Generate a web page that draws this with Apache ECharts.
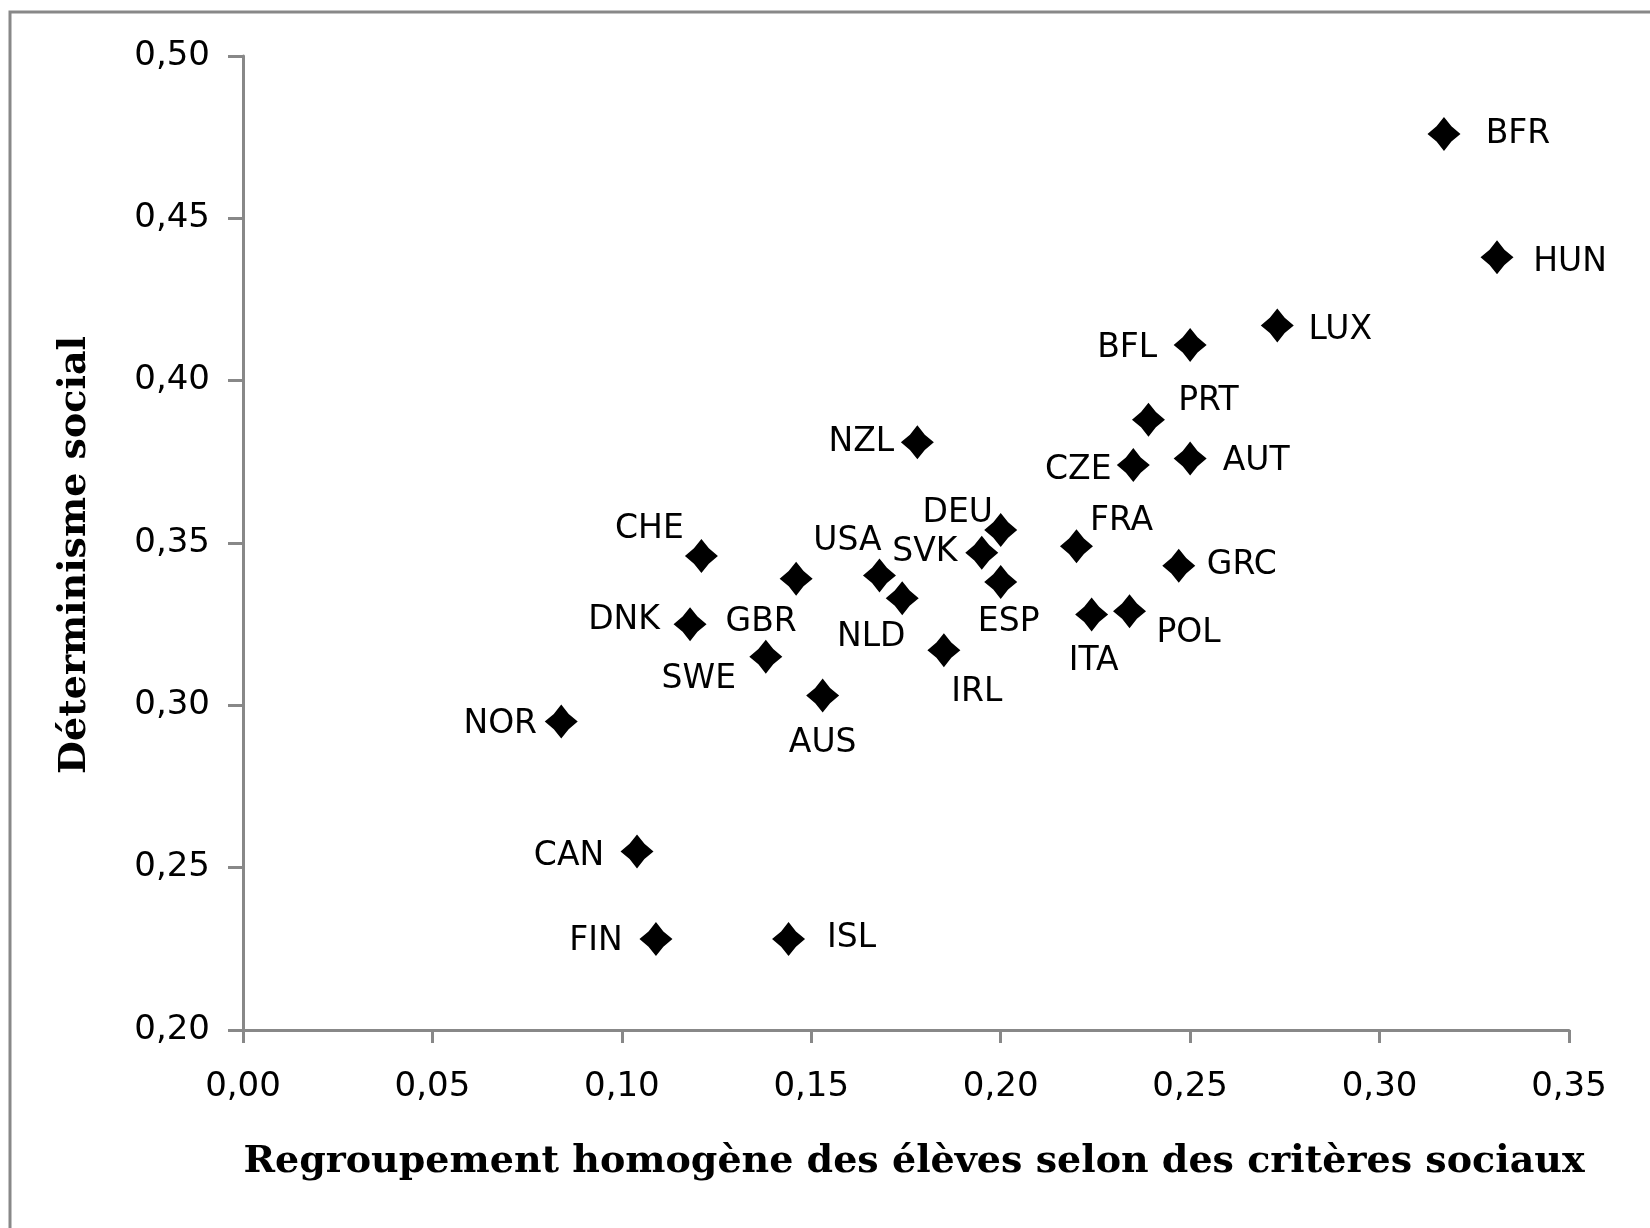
<!DOCTYPE html>
<html>
<head>
<meta charset="utf-8">
<script src="https://cdn.jsdelivr.net/npm/echarts@6/dist/echarts.min.js"></script>
<style>html,body{margin:0;padding:0;background:#fff}#c{width:1650px;height:1228px}</style>
</head>
<body>
<div id="c"></div>
<script>
// ---- data ----
const countries = ["BFR","HUN","LUX","BFL","PRT","AUT","CZE","NZL","DEU","SVK","ESP","FRA","GRC","ITA","POL","CHE","GBR","USA","NLD","DNK","SWE","IRL","AUS","NOR","CAN","FIN","ISL"];
const groupingValues = [0.317,0.331,0.273,0.250,0.239,0.250,0.235,0.178,0.200,0.195,0.200,0.220,0.247,0.224,0.234,0.121,0.146,0.168,0.174,0.118,0.138,0.185,0.153,0.084,0.104,0.109,0.144];
const determinismValues = [0.476,0.438,0.417,0.411,0.388,0.376,0.374,0.381,0.354,0.347,0.338,0.349,0.343,0.328,0.329,0.346,0.339,0.340,0.333,0.325,0.315,0.317,0.303,0.295,0.255,0.228,0.228];
const xTicks = ["0,00","0,05","0,10","0,15","0,20","0,25","0,30","0,35"];
const yTicks = ["0,20","0,25","0,30","0,35","0,40","0,45","0,50"];
// label placement (pixel offsets from marker centre), styling only
const labelOffsets = [[74,-3],[73,1],[63,1],[-63,-1],[60,-22],[66,-1],[-55,1],[-56,-4],[-43,-21],[-57,-4],[8,36],[45,-29],[63,-4],[2,43],[59,18],[-52,-31],[-35,40],[-32,-38],[-31,35],[-66,-8],[-67,19],[33,38],[0,44],[-61,-1],[-68,1],[-60,-2],[63,-5]];

const chart = echarts.init(document.getElementById('c'), null, {renderer:'canvas'});
const pts = countries.map((n,i)=>({ name:n, value:[groupingValues[i], determinismValues[i]] }));
const axisCol = '#888888';
const tickFont = {fontFamily:'DejaVu Sans', fontSize:34, color:'#000'};
const titleFont = {fontFamily:'DejaVu Serif', fontWeight:'bold', fontSize:38, color:'#000'};
chart.setOption({
  animation:false,
  backgroundColor:'#fff',
  graphic:[{type:'rect', shape:{x:10,y:12,width:1700,height:1300}, style:{fill:'none', stroke:'#888', lineWidth:3}, silent:true}],
  grid:{left:243, right:81, top:56, bottom:198, containLabel:false},
  xAxis:{
    type:'value', min:0, max:0.35, interval:0.05,
    axisLine:{show:true, onZero:false, lineStyle:{color:axisCol, width:3}},
    axisTick:{show:true, length:13, lineStyle:{color:axisCol, width:3}},
    splitLine:{show:false},
    axisLabel:Object.assign({margin:40, formatter:(v)=>xTicks[Math.round(v/0.05)]}, tickFont),
    name:'Regroupement homogène des élèves selon des critères sociaux',
    nameLocation:'middle', nameGap:113,
    nameTextStyle:Object.assign({padding:[0,0,0,16]}, titleFont)
  },
  yAxis:{
    type:'value', min:0.20, max:0.50, interval:0.05,
    axisLine:{show:true, onZero:false, lineStyle:{color:axisCol, width:3}},
    axisTick:{show:true, length:15, lineStyle:{color:axisCol, width:3}},
    splitLine:{show:false},
    axisLabel:Object.assign({margin:33, padding:[6,0,0,0], formatter:(v)=>yTicks[Math.round((v-0.20)/0.05)]}, tickFont),
    name:'Déterminisme social',
    nameLocation:'middle', nameGap:149, nameRotate:90,
    nameTextStyle:Object.assign({padding:[0,24,0,0]}, titleFont)
  },
  series:[{
    type:'scatter',
    data:pts,
    symbol:'path://M0,-1 L0.45,-0.45 L1,0 L0.45,0.45 L0,1 L-0.45,0.45 L-1,0 L-0.45,-0.45 Z',
    symbolSize:[33,34],
    itemStyle:{color:'#000', opacity:1},
    label:{show:true, position:'inside', formatter:'{b}', fontFamily:'DejaVu Sans', fontSize:33, color:'#000', align:'center', verticalAlign:'middle'},
    labelLayout:function(p){ const o = labelOffsets[p.dataIndex]; return {dx:o[0], dy:o[1]+4, hideOverlap:false}; },
    emphasis:{disabled:true}
  }]
});
</script>
</body>
</html>
